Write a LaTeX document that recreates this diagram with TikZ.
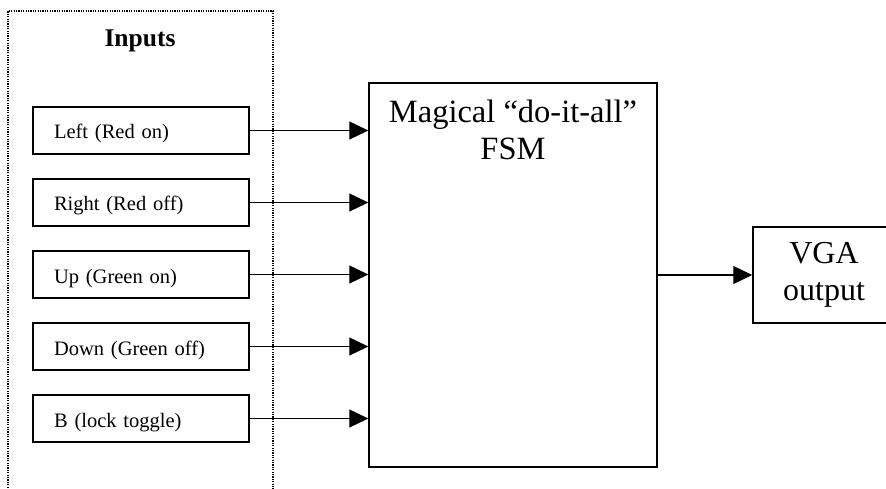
\documentclass[tikz,border=0pt]{standalone}
\usepackage{fontspec}
\setmainfont{Liberation Serif}
\usepackage{tikz}
\usetikzlibrary{arrows.meta,calc,positioning}

\begin{document}
\begin{tikzpicture}[
    x=1pt, y=1pt,
    inbox/.style={draw, line width=1.5pt, rectangle, minimum width=216pt, minimum height=47pt,
        inner xsep=21pt, inner ysep=0pt, text width=174pt, align=left,
        text height=20pt, text depth=3pt,
        font=\fontsize{20.5}{24}\selectfont},
    bigbox/.style={draw, line width=1.5pt, rectangle, inner sep=0pt},
    bigtext/.style={align=center, inner sep=0pt, font=\fontsize{32.5}{37}\selectfont},
    feed/.style={line width=1.3pt, -{Triangle[length=19pt,width=18pt]}},
    group/.style={line width=1.2pt, dash pattern=on 1.2pt off 1.2pt}]
\useasboundingbox (0,0) rectangle (886,-489);

\draw[group] (8,-495) -- (8,-11) -- (273,-11) -- (273,-495);
\node (inputs) [anchor=base, inner sep=0pt, font=\fontsize{25.5}{30}\selectfont\bfseries] at (140,-47) {Inputs};

\foreach \name/\label [count=\i from 0] in {left/Left (Red on), right/Right (Red off), up/Up (Green on), down/Down (Green off), lock/B (lock toggle)}
    \node (\name) [inbox] at (141,-130.5-72*\i) {\label};

\node (fsm) [bigbox, minimum width=288pt, minimum height=384pt] at (513,-275) {};
\node (fsmtext) [bigtext, anchor=north] at ([yshift=-18pt]fsm.north) {Magical “do-it-all”\\FSM};

\node (vga) [bigbox, minimum width=142pt, minimum height=96pt, align=center,
    font=\fontsize{32}{36.5}\selectfont] at (824,-275) {VGA\\output};

\foreach \name in {left, right, up, down, lock}
    \draw[feed] (\name.east) -- (\name.east -| fsm.west);
\draw[feed] (fsm.east) -- (vga.west);

\end{tikzpicture}
\end{document}
